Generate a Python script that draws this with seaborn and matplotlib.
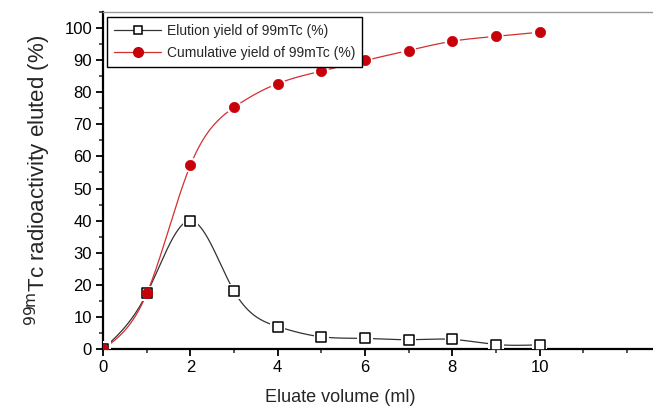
import numpy as np
import pandas as pd
import matplotlib
matplotlib.use("Agg")
import matplotlib.pyplot as plt
import seaborn as sns
from matplotlib.lines import Line2D
from matplotlib.ticker import MultipleLocator

volume = [0, 1, 2, 3, 4, 5, 6, 7, 8, 9, 10]
elution = [0, 17.3, 40.0, 18.0, 7.0, 3.8, 3.3, 2.9, 3.0, 1.4, 1.3]
cumulative = [0, 17.3, 57.3, 75.3, 82.7, 86.6, 89.9, 93.0, 95.9, 97.4, 98.7]

label_el = "Elution yield of 99mTc (%)"
label_cu = "Cumulative yield of 99mTc (%)"


def natural_spline(x, y, n=500):
    x = np.asarray(x, float); y = np.asarray(y, float)
    k = len(x)
    h = np.diff(x)
    A = np.zeros((k, k)); b = np.zeros(k)
    A[0, 0] = 1; A[-1, -1] = 1
    for i in range(1, k - 1):
        A[i, i - 1] = h[i - 1]
        A[i, i] = 2 * (h[i - 1] + h[i])
        A[i, i + 1] = h[i]
        b[i] = 6 * ((y[i + 1] - y[i]) / h[i] - (y[i] - y[i - 1]) / h[i - 1])
    M = np.linalg.solve(A, b)
    xs = np.linspace(x[0], x[-1], n)
    idx = np.clip(np.searchsorted(x, xs) - 1, 0, k - 2)
    x0, x1 = x[idx], x[idx + 1]
    hh = x1 - x0
    ys = (M[idx] * (x1 - xs) ** 3 / (6 * hh) + M[idx + 1] * (xs - x0) ** 3 / (6 * hh)
          + (y[idx] / hh - M[idx] * hh / 6) * (x1 - xs)
          + (y[idx + 1] / hh - M[idx + 1] * hh / 6) * (xs - x0))
    return xs, ys


sns.set_style("ticks")
plt.rcParams['font.family'] = ['Liberation Sans', 'DejaVu Sans']

fig = plt.figure(figsize=(6.53, 4.07), dpi=100)
ax = fig.add_axes([0.158, 0.1425, 0.842, 0.828])

red = "#c8000a"
dark = "#333333"

xs, ys = natural_spline(volume, elution)
ax.plot(xs, ys, color=dark, lw=0.9, zorder=2)
xs2, ys2 = natural_spline(volume, cumulative)
ax.plot(xs2, ys2, color="#d03030", lw=0.9, zorder=2)

df = pd.DataFrame({"v": volume, "e": elution, "c": cumulative})
# white halos to create gaps
sns.scatterplot(data=df, x="v", y="e", marker="s", s=120, color="white",
                edgecolor="none", ax=ax, zorder=3, legend=False)
sns.scatterplot(data=df, x="v", y="c", marker="o", s=120, color="white",
                edgecolor="none", ax=ax, zorder=3, legend=False)
sns.scatterplot(data=df, x="v", y="e", marker="s", s=45, color="white",
                edgecolor="black", linewidth=1.1, ax=ax, zorder=4, legend=False)
sns.scatterplot(data=df, x="v", y="c", marker="o", s=55, color=red,
                edgecolor=red, linewidth=0.5, ax=ax, zorder=5, legend=False)

ax.set_xlim(0, 12.6)
ax.set_ylim(0, 105)
ax.xaxis.set_major_locator(MultipleLocator(2))
ax.xaxis.set_minor_locator(MultipleLocator(1))
ax.yaxis.set_major_locator(MultipleLocator(10))
ax.yaxis.set_minor_locator(MultipleLocator(5))
ax.set_xticks([0, 2, 4, 6, 8, 10])
ax.tick_params(axis="both", which="major", direction="out", length=5, width=1.3,
               labelsize=12, colors="black", pad=3)
ax.tick_params(axis="both", which="minor", direction="out", length=3, width=1.1)

for s in ["left", "bottom"]:
    ax.spines[s].set_linewidth(1.6)
    ax.spines[s].set_color("black")
ax.spines["top"].set_visible(True)
ax.spines["top"].set_color("#999999")
ax.spines["top"].set_linewidth(1.0)
ax.spines["right"].set_visible(False)

ax.set_xlabel("Eluate volume (ml)", fontsize=13)
ax.xaxis.set_label_coords(0.431, -0.12)
ax.set_ylabel("$^{\\mathrm{99m}}$Tc radioactivity eluted (%)", fontsize=16, labelpad=8)

handles = [
    Line2D([0], [0], color=dark, lw=0.9, marker="s", markersize=6,
           markerfacecolor="white", markeredgecolor="black", markeredgewidth=1.1),
    Line2D([0], [0], color="#d03030", lw=0.9, marker="o", markersize=7,
           markerfacecolor=red, markeredgecolor=red),
]
leg = ax.legend(handles, [label_el, label_cu], loc="upper left",
                bbox_to_anchor=(0.007, 0.985), fontsize=10, frameon=True,
                fancybox=False, edgecolor="black", handlelength=3.4,
                borderpad=0.5, labelspacing=0.6, handletextpad=0.4,
                borderaxespad=0, framealpha=1)
leg.get_frame().set_linewidth(1.0)
leg.set_zorder(10)

fig.savefig("out.png", dpi=100)
